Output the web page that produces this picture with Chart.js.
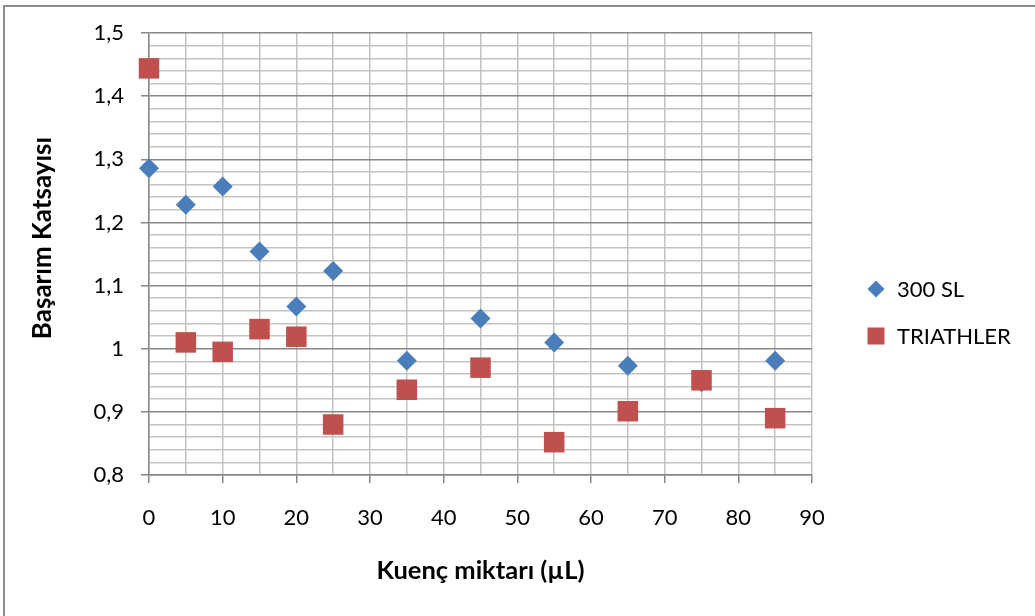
<!DOCTYPE html>
<html>
<head>
<meta charset="utf-8">
<script src="https://cdn.jsdelivr.net/npm/chart.js@4"></script>
<style>
  html, body { margin: 0; padding: 0; background: #ffffff; overflow: hidden; }
  #wrap { position: relative; width: 1035px; height: 616px; }
  #frame { position: absolute; left: 3px; top: 5px; width: 1200px; height: 800px;
           border-left: 2px solid #8c8c8c; border-top: 2px solid #8c8c8c; box-sizing: border-box; }
  #c { position: absolute; left: 0; top: 0; }
</style>
</head>
<body>
<div id="wrap">
  <div id="frame"></div>
  <canvas id="c" width="1035" height="616"></canvas>
</div>
<script>
// Concentration (µL) on the x axis
const amounts = [0, 5, 10, 15, 20, 25, 35, 45, 55, 65, 75, 85];
// Performance coefficient per product
const sl300 = [1.286, 1.228, 1.257, 1.154, 1.067, 1.123, 0.981, 1.048, 1.010, 0.973, 0.947, 0.981];
const triathler = [1.444, 1.010, 0.995, 1.031, 1.019, 0.880, 0.935, 0.970, 0.852, 0.901, 0.950, 0.890];

const seriesNames = ['300 SL', 'TRIATHLER'];
const xTickLabels = ['0', '10', '20', '30', '40', '50', '60', '70', '80', '90'];
const yTickLabels = ['0,8', '0,9', '1', '1,1', '1,2', '1,3', '1,4', '1,5'];
const xTitle = 'Kuenç miktarı (µL)';
const yTitle = 'Başarım Katsayısı';

const FONT = 'Lato, "Open Sans", sans-serif';
const BLUE = '#4a7ebb';
const RED = '#c0504d';
const MAJOR = '#878787';
const MINOR = '#c3c3c3';

const toPts = (ys) => ys.map((y, i) => ({ x: amounts[i], y }));

function isMajorY(v) { return Math.round(v * 100) % 10 === 0; }
function isMajorX(v) { return Math.round(v) % 10 === 0; }

// Bold title scaled so that it spans the wanted length
function fittedTitle(ctx, text, span, base) {
  ctx.font = 'bold ' + base + 'px ' + FONT;
  const w = ctx.measureText(text).width;
  const size = Math.min(base * span / w, 26);
  ctx.font = 'bold ' + size.toFixed(1) + 'px ' + FONT;
}

// Legend and axis titles drawn onto the canvas after the chart
const decorations = {
  id: 'decorations',
  afterDraw(chart) {
    const ctx = chart.ctx;
    const a = chart.chartArea;
    ctx.save();
    ctx.fillStyle = '#000';
    ctx.textAlign = 'center';
    ctx.textBaseline = 'middle';
    fittedTitle(ctx, xTitle, 208, 20);
    ctx.fillText(xTitle, (a.left + a.right) / 2, 571);
    ctx.translate(43, 238);
    ctx.rotate(-Math.PI / 2);
    fittedTitle(ctx, yTitle, 226, 20);
    ctx.fillText(yTitle, 0, 0);
    ctx.restore();

    // legend
    const items = [
      { ds: chart.data.datasets.find(d => d.label === seriesNames[0]), y: 289 },
      { ds: chart.data.datasets.find(d => d.label === seriesNames[1]), y: 336 }
    ];
    ctx.save();
    ctx.font = '22px ' + FONT;
    ctx.textAlign = 'left';
    ctx.textBaseline = 'middle';
    items.forEach(it => {
      const cx = 876;
      ctx.fillStyle = it.ds.backgroundColor;
      ctx.beginPath();
      if (it.ds.pointStyle === 'rectRot') {
        const r = 8.5;
        ctx.moveTo(cx - r, it.y); ctx.lineTo(cx, it.y - r);
        ctx.lineTo(cx + r, it.y); ctx.lineTo(cx, it.y + r);
        ctx.closePath();
      } else {
        ctx.rect(cx - 8.5, it.y - 8.5, 17, 17);
      }
      ctx.fill();
      ctx.fillStyle = '#000';
      ctx.fillText(it.ds.label, 897, it.y + 1);
    });
    ctx.restore();
  }
};

new Chart(document.getElementById('c'), {
  type: 'scatter',
  data: {
    datasets: [
      {
        label: seriesNames[0],
        data: toPts(sl300),
        pointStyle: 'rectRot',
        pointRadius: 10,
        pointHoverRadius: 10,
        backgroundColor: BLUE,
        borderColor: BLUE,
        borderWidth: 0,
        clip: false,
        order: 1
      },
      {
        label: seriesNames[1],
        data: toPts(triathler),
        pointStyle: 'rect',
        pointRadius: 14.5,
        pointHoverRadius: 14.5,
        backgroundColor: RED,
        borderColor: RED,
        borderWidth: 0,
        clip: false,
        order: 0
      }
    ]
  },
  options: {
    responsive: false,
    animation: false,
    events: [],
    layout: { padding: { left: 0, top: 33, right: 223, bottom: 0 } },
    plugins: {
      legend: { display: false },
      tooltip: { enabled: false }
    },
    scales: {
      x: {
        type: 'linear',
        min: 0, max: 90,
        afterFit(s) { s.height = 141; },
        ticks: {
          stepSize: 5,
          autoSkip: false,
          maxRotation: 0,
          padding: 22,
          color: '#000',
          font: { family: FONT, size: 22 },
          callback: (v) => isMajorX(v) ? xTickLabels[Math.round(v / 10)] : ''
        },
        grid: {
          color: MINOR,
          lineWidth: 1.5,
          tickLength: 8,
          tickColor: (c) => (c.tick && isMajorX(c.tick.value)) ? MAJOR : 'rgba(0,0,0,0)'
        },
        border: { color: MAJOR, width: 1.5 }
      },
      y: {
        type: 'linear',
        min: 0.8, max: 1.5,
        afterFit(s) { s.width = 149; },
        ticks: {
          stepSize: 0.02,
          autoSkip: false,
          padding: 17,
          color: '#000',
          font: { family: FONT, size: 22 },
          callback: (v) => isMajorY(v) ? yTickLabels[Math.round((v - 0.8) * 10)] : ''
        },
        grid: {
          color: (c) => (c.tick && isMajorY(c.tick.value)) ? MAJOR : MINOR,
          lineWidth: 1.5,
          tickLength: 8,
          tickColor: (c) => (c.tick && isMajorY(c.tick.value)) ? MAJOR : 'rgba(0,0,0,0)'
        },
        border: { color: MAJOR, width: 1.5 }
      }
    }
  },
  plugins: [decorations]
});
</script>
</body>
</html>
